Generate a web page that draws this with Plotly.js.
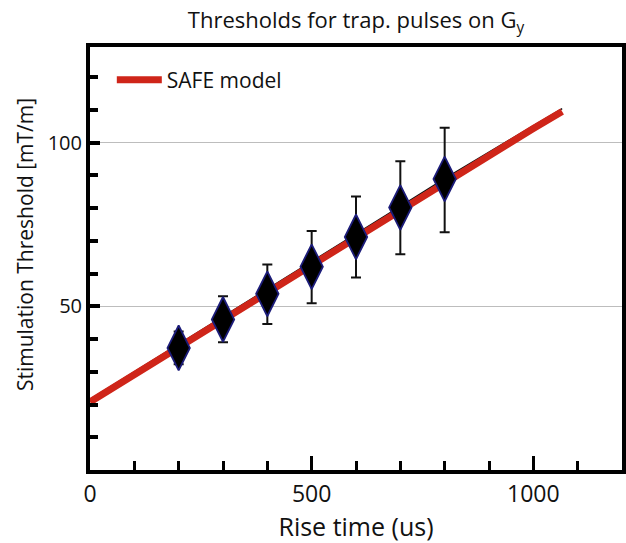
<!DOCTYPE html>
<html>
<head>
<meta charset="utf-8">
<script src="https://cdn.plot.ly/plotly-3.0.1.min.js"></script>
<style>html,body{margin:0;padding:0;background:#fff;}#chart{width:626px;height:543px;}</style>
</head>
<body>
<div id="chart"></div>
<script>
// SAFE model curve
var modelX = [0, 100, 200, 300, 400, 500, 600, 700, 800, 900, 1000, 1065];
var modelY = [20.8, 29.2, 37.5, 45.9, 54.2, 62.6, 71.1, 79.6, 88.1, 96.2, 104.3, 109.5];
// thin black companion curve (partly hidden under the red one)
var model2Y = [21.6, 30.0, 38.4, 46.8, 55.1, 63.5, 72.0, 80.5, 89.0, 97.1, 105.2, 110.4];
// measured thresholds
var riseTimes = [200, 300, 400, 500, 600, 700, 800];
var thresholds = [37.3, 46.0, 53.8, 62.1, 71.2, 80.2, 88.9];
var errPlus = [5.0, 7.1, 9.0, 10.9, 12.3, 14.1, 15.6];
var errMinus = [5.0, 7.0, 9.2, 11.2, 12.4, 14.3, 16.3];
var xTicks = [0, 500, 1000];
var yTicks = [50, 100];

var FONT = '"Open Sans", "DejaVu Sans", sans-serif';

var traces = [
  {
    x: modelX, y: model2Y, type: 'scatter', mode: 'lines',
    line: {color: '#111111', width: 1.5}, showlegend: false, hoverinfo: 'skip'
  },
  {
    x: modelX, y: modelY, type: 'scatter', mode: 'lines', name: 'SAFE model',
    line: {color: '#cf2519', width: 7}
  },
  {
    x: riseTimes, y: thresholds, type: 'scatter', mode: 'markers', showlegend: false,
    marker: {symbol: 'diamond-tall', size: 32, color: '#000000', line: {color: '#1c1c7a', width: 1.8}},
    error_y: {type: 'data', symmetric: false, array: errPlus, arrayminus: errMinus,
              color: '#111111', thickness: 2, width: 5}
  }
];

var layout = {
  width: 626, height: 543,
  margin: {l: 90, r: 4, t: 47, b: 73},
  paper_bgcolor: '#ffffff', plot_bgcolor: '#ffffff',
  font: {family: FONT, color: '#111111'},
  title: {text: 'Thresholds for trap. pulses on G<sub>y</sub>', font: {family: FONT, size: 22, color: '#111111'},
          x: 0.5, xref: 'paper', y: 0.962, yanchor: 'middle'},
  showlegend: true,
  legend: {x: 0.041, y: 0.922, xanchor: 'left', yanchor: 'middle', bgcolor: 'rgba(0,0,0,0)',
           itemwidth: 45, font: {family: FONT, size: 21, color: '#111111'}},
  xaxis: {
    range: [0, 1200], tickmode: 'array', tickvals: xTicks, ticktext: xTicks.map(String),
    ticks: 'inside', ticklen: 14, tickwidth: 3, tickcolor: '#000',
    minor: {tickmode: 'linear', tick0: 0, dtick: 100, ticks: 'inside', ticklen: 9, tickwidth: 3, tickcolor: '#000'},
    showline: true, linewidth: 4, linecolor: '#000', mirror: true,
    showgrid: false, zeroline: false,
    tickfont: {family: FONT, size: 23, color: '#111111'},
    title: {text: 'Rise time (us)', font: {family: FONT, size: 25, color: '#111111'}, standoff: 6}
  },
  yaxis: {
    range: [0, 129.2], tickmode: 'array', tickvals: yTicks, ticktext: yTicks.map(String),
    ticks: 'inside', ticklen: 10, tickwidth: 4, tickcolor: '#000',
    minor: {tickmode: 'linear', tick0: 0, dtick: 10, ticks: 'inside', ticklen: 8, tickwidth: 4, tickcolor: '#000'},
    showline: true, linewidth: 4, linecolor: '#000', mirror: true,
    showgrid: true, gridcolor: '#bdbdbd', gridwidth: 1.5, zeroline: false,
    tickfont: {family: FONT, size: 20, color: '#111111'}
  },
  annotations: [{
    text: 'Stimulation Threshold [mT/m]', textangle: -90, showarrow: false,
    xref: 'paper', yref: 'paper', x: -0.122, y: 0.532, xanchor: 'center', yanchor: 'middle',
    font: {family: FONT, size: 21, color: '#111111'}
  }]
};

Plotly.newPlot('chart', traces, layout, {displayModeBar: false, staticPlot: true});
</script>
</body>
</html>
